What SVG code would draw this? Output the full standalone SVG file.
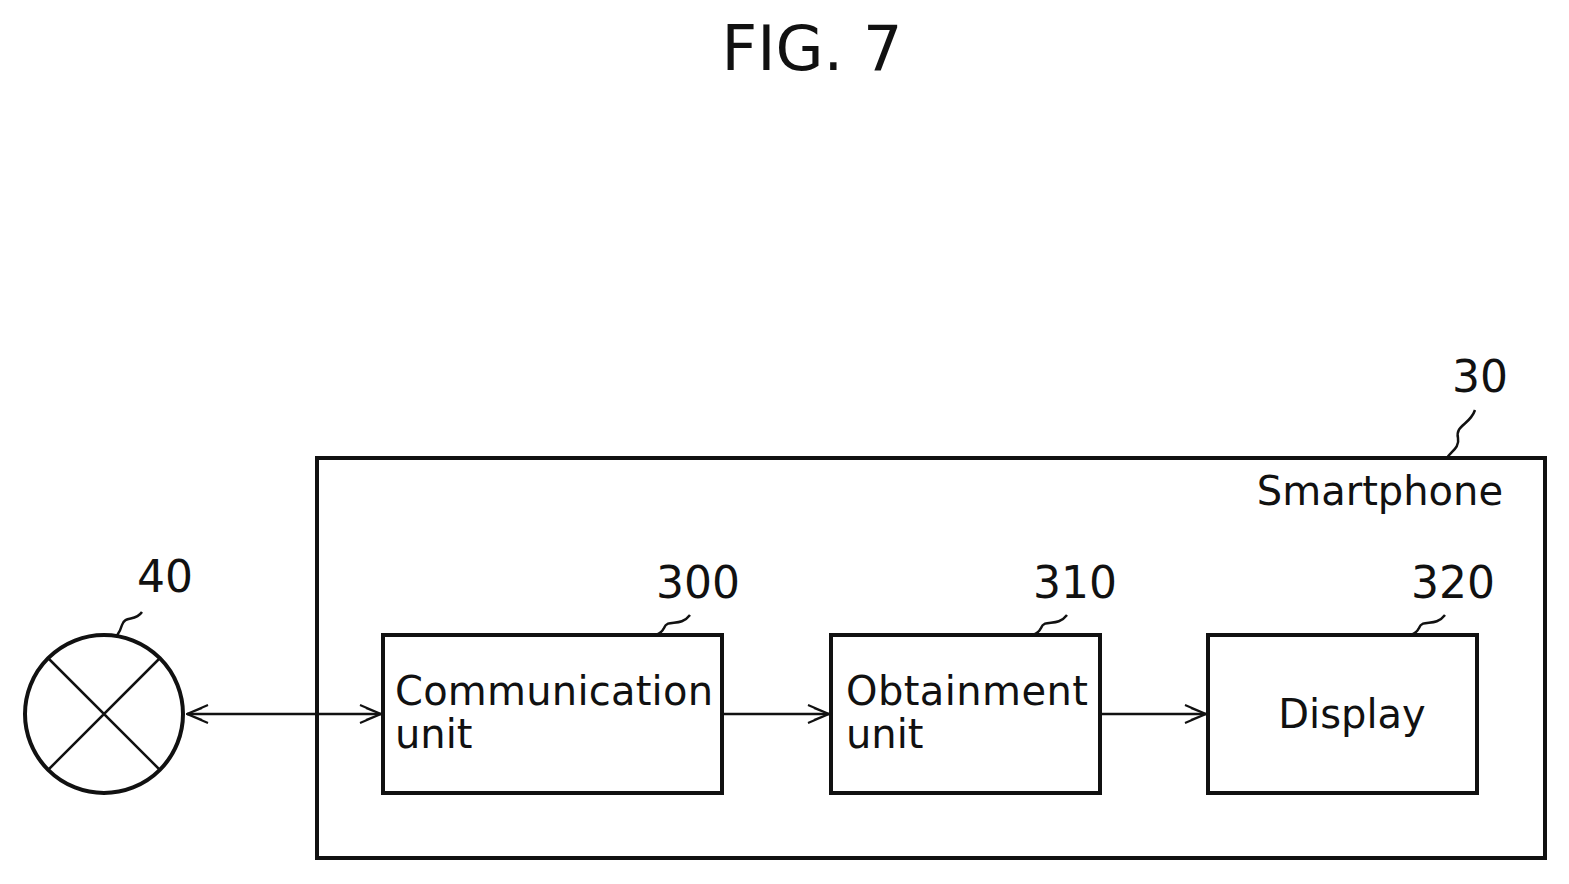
<svg xmlns="http://www.w3.org/2000/svg" width="1569" height="884" viewBox="0 0 1569 884">
<style>
text{font-family:"DejaVu Sans","Liberation Sans",sans-serif;fill:#111}
.box{fill:#fff;stroke:#111;stroke-width:4}
.ln{fill:none;stroke:#111;stroke-width:2.5}
.lbl{font-size:40px}
.ref{font-size:44px}
</style>
<defs>
<marker id="ah" viewBox="0 0 24 20" refX="23" refY="10" markerWidth="24" markerHeight="20" markerUnits="userSpaceOnUse" orient="auto-start-reverse">
<path d="M2 1 L23 10 L2 19 M8 4 L23 10 L8 16" fill="none" stroke="#111" stroke-width="2"/>
</marker>
</defs>
<rect width="1569" height="884" fill="#fff"/>
<text x="812" y="70" font-size="62" text-anchor="middle">FIG. 7</text>
<g id="smartphone">
<rect class="box" x="317" y="458" width="1228" height="400"/>
<text x="1503" y="505" class="lbl" text-anchor="end">Smartphone</text>
<text x="1480" y="392" class="ref" text-anchor="middle">30</text>
<path class="ln" d="M1475 410 C1470 425,1455 425,1458 438 C1460 448,1450 452,1447 458"/>
</g>
<g id="node40">
<circle cx="104" cy="714" r="79" fill="#fff" stroke="#111" stroke-width="4"/>
<path class="ln" d="M48 658 L160 770 M160 658 L48 770"/>
<text x="165" y="592" class="ref" text-anchor="middle">40</text>
<path class="ln" d="M142 612 C135 622,125 615,122 625 C120 632,118 634,116 637"/>
</g>
<g id="comm">
<rect class="box" x="383" y="635" width="339" height="158"/>
<text x="395" y="705" class="lbl" textLength="318">Communication</text>
<text x="395" y="748" class="lbl">unit</text>
<text x="698" y="598" class="ref" text-anchor="middle">300</text>
<path class="ln" d="M690 615 C680 628,668 618,664 628 C661 634,658 634,655 635"/>
</g>
<g id="obtain">
<rect class="box" x="831" y="635" width="269" height="158"/>
<text x="846" y="705" class="lbl" textLength="242">Obtainment</text>
<text x="846" y="748" class="lbl">unit</text>
<text x="1075" y="598" class="ref" text-anchor="middle">310</text>
<path class="ln" d="M1067 615 C1057 628,1045 618,1041 628 C1038 634,1035 634,1032 635"/>
</g>
<g id="display">
<rect class="box" x="1208" y="635" width="269" height="158"/>
<text x="1352" y="728" class="lbl" text-anchor="middle">Display</text>
<text x="1453" y="598" class="ref" text-anchor="middle">320</text>
<path class="ln" d="M1445 615 C1435 628,1423 618,1419 628 C1416 634,1413 634,1410 635"/>
</g>
<g id="connectors" class="ln">
<line x1="187" y1="714" x2="381" y2="714" marker-start="url(#ah)" marker-end="url(#ah)"/>
<line x1="722" y1="714" x2="829" y2="714" marker-end="url(#ah)"/>
<line x1="1100" y1="714" x2="1206" y2="714" marker-end="url(#ah)"/>
</g>
</svg>
